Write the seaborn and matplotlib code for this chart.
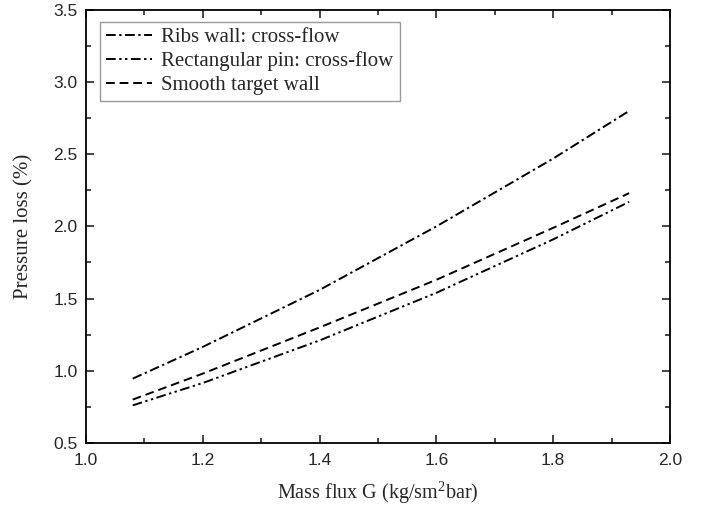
import numpy as np
import pandas as pd
import matplotlib
matplotlib.use("Agg")
import matplotlib.pyplot as plt
from matplotlib.ticker import MultipleLocator, FormatStrFormatter
import seaborn as sns

# ---------------------------
# Data
# ---------------------------
mass_flux = [1.08, 1.2, 1.4, 1.6, 1.8, 1.93]
ribs_wall = [0.945, 1.165, 1.56, 2.00, 2.47, 2.80]
rect_pin = [0.76, 0.915, 1.21, 1.54, 1.91, 2.17]
smooth_wall = [0.80, 0.98, 1.30, 1.63, 1.99, 2.23]

labels = ["Ribs wall: cross-flow", "Rectangular pin: cross-flow", "Smooth target wall"]

df = pd.DataFrame({
    "G": mass_flux * 3,
    "loss": ribs_wall + rect_pin + smooth_wall,
    "case": [labels[0]] * len(mass_flux) + [labels[1]] * len(mass_flux) + [labels[2]] * len(mass_flux),
})

# ---------------------------
# Plot
# ---------------------------
sns.set_style("ticks")
plt.rcParams["font.family"] = ["Liberation Sans", "DejaVu Sans"]
plt.rcParams["mathtext.fontset"] = "custom"
plt.rcParams["mathtext.rm"] = "Liberation Serif"

fig = plt.figure(figsize=(7.02, 5.18), dpi=100)
ax = fig.add_axes([0.1225, 0.145, 0.832, 0.836])

dash_styles = {
    labels[0]: (5, 1.8, 1.2, 1.8),
    labels[1]: (5, 1.8, 1.2, 1.8, 1.2, 1.8),
    labels[2]: (4.5, 2.5),
}
sns.lineplot(data=df, x="G", y="loss", hue="case", style="case",
             palette=["black"] * 3, dashes=dash_styles, linewidth=1.4,
             hue_order=labels, style_order=labels, ax=ax)

ax.set_xlim(1.0, 2.0)
ax.set_ylim(0.5, 3.5)
ax.xaxis.set_major_locator(MultipleLocator(0.2))
ax.xaxis.set_minor_locator(MultipleLocator(0.1))
ax.yaxis.set_major_locator(MultipleLocator(0.5))
ax.yaxis.set_minor_locator(MultipleLocator(0.25))
ax.xaxis.set_major_formatter(FormatStrFormatter("%.1f"))
ax.yaxis.set_major_formatter(FormatStrFormatter("%.1f"))

ax.tick_params(which="both", direction="in", top=True, right=True, width=1.2)
ax.tick_params(which="major", length=6, labelsize=12.5)
ax.tick_params(axis="x", which="major", pad=7)
ax.tick_params(axis="y", which="major", pad=6)
ax.tick_params(which="minor", length=3.5)
for s in ax.spines.values():
    s.set_linewidth(1.3)
    s.set_color("black")

ax.set_xlabel("Mass flux G (kg/sm$\\mathrm{^2}$bar)", family="Liberation Serif", fontsize=14.5, labelpad=9)
ax.set_ylabel("Pressure loss (%)", family="Liberation Serif", fontsize=15, labelpad=14)

handles, lbls = ax.get_legend_handles_labels()
leg = ax.legend(handles, lbls, loc="upper left", bbox_to_anchor=(0.024, 0.973),
                prop={"family": "Liberation Serif", "size": 15},
                frameon=True, fancybox=False, edgecolor="gray",
                handlelength=2.2, handletextpad=0.45, labelspacing=0.2,
                borderpad=0.3, borderaxespad=0)
leg.get_frame().set_linewidth(1.0)

fig.savefig("out.png", dpi=100)
